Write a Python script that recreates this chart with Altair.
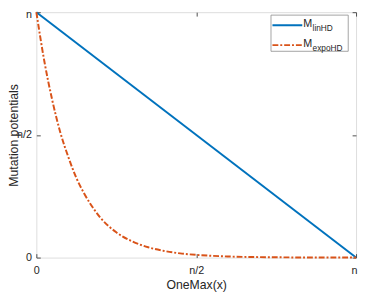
import altair as alt
import pandas as pd

# ---- data (values as fractions of n) ----
lin_x = [0.0, 1.0]
lin_y = [1.0, 0.0]
expo_x = [0.0, 0.025, 0.05, 0.075, 0.1, 0.125, 0.15, 0.175, 0.2, 0.25,
          0.3, 0.35, 0.4, 0.45, 0.5, 0.6, 0.7, 0.8, 0.9, 1.0]
expo_y = [1.0, 0.80, 0.64, 0.51, 0.41, 0.325, 0.26, 0.207, 0.163, 0.103,
          0.066, 0.042, 0.027, 0.017, 0.011, 0.0045, 0.0018, 0.0007, 0.0003, 0.0]
tick_values = [0.0, 0.5, 1.0]
tick_labels = ["0", "n/2", "n"]
series = ["linHD", "expoHD"]
colors = ["#0072BD", "#D95319"]
x_title = "OneMax(x)"
y_title = "Mutation potentials"

W, H = 327, 251
FONT = "Liberation Sans"
AXC = "#4d4d4d"
TXT = "#262626"

expr = " : ".join(f"datum.value == {v} ? '{l}'" for v, l in zip(tick_values[:-1], tick_labels[:-1]))
label_expr = f"{expr} : '{tick_labels[-1]}'"

xs = alt.Scale(domain=[0, 1], nice=False, zero=False)
ys = alt.Scale(domain=[0, 1], nice=False, zero=False)

common = dict(values=tick_values, domain=False, grid=False, tickSize=4, offset=-4,
              tickColor=AXC, labelFlush=False, labelOverlap=False)

last = tick_values[-1]
x_bottom = alt.Axis(orient="bottom", labelExpr=label_expr, labelPadding=7.5, labelFontSize=11,
                    labelFont=FONT, labelColor=TXT, title=x_title, titleFont=FONT,
                    titleFontSize=12.5, titleFontWeight="normal", titleColor=TXT,
                    titleBaseline="middle", titleY=32,
                    labelOffset={"condition": {"test": f"datum.value == {last}", "value": -2}, "value": 0},
                    **common)
y_left = alt.Axis(orient="left", labelExpr=label_expr, labelPadding=5, labelFontSize=11,
                  labelFont=FONT, labelColor=TXT, title=y_title, titleFont=FONT,
                  titleFontSize=12.5, titleFontWeight="normal", titleColor=TXT,
                  titleBaseline="middle", titleX=-27, titleY=H / 2,
                  labelOffset={"condition": {"test": f"datum.value == {last}", "value": 2}, "value": 0},
                  **common)
x_top = alt.Axis(orient="top", labels=False, title=None, **common)
y_right = alt.Axis(orient="right", labels=False, title=None, **common)

df_lin = pd.DataFrame({"x": lin_x, "y": lin_y})
df_expo = pd.DataFrame({"x": expo_x, "y": expo_y})
df_ticks = pd.DataFrame({"v": tick_values})

DASHDOT = [6, 2, 2, 2]

lin = alt.Chart(df_lin).mark_line(color=colors[0], strokeWidth=2).encode(
    x=alt.X("x:Q", scale=xs, axis=x_bottom),
    y=alt.Y("y:Q", scale=ys, axis=y_left),
)
expo = alt.Chart(df_expo).mark_line(
    color=colors[1], strokeWidth=2, strokeDash=DASHDOT, interpolate="monotone"
).encode(
    x=alt.X("x:Q", scale=xs, axis=None),
    y=alt.Y("y:Q", scale=ys, axis=None),
)
mirror = alt.Chart(df_ticks).mark_point(opacity=0).encode(
    x=alt.X("v:Q", scale=xs, axis=x_top),
    y=alt.Y("v:Q", scale=ys, axis=y_right),
)

# ---- legend (manual, for subscripts) ----
one = pd.DataFrame({"a": [0]})
box = alt.Chart(one).mark_rect(fill="white", stroke="#8c8c8c", strokeWidth=0.8).encode(
    x=alt.value(240), x2=alt.value(319), y=alt.value(3), y2=alt.value(40)
)
legend_layers = [box]
row_y = [13.3, 33.7]
dashes = [[1, 0], DASHDOT]
for i, s in enumerate(series):
    legend_layers.append(
        alt.Chart(one).mark_rule(color=colors[i], strokeWidth=2, strokeDash=dashes[i]).encode(
            x=alt.value(241.5), x2=alt.value(272), y=alt.value(row_y[i])
        )
    )
    legend_layers.append(
        alt.Chart(one).mark_text(text="M", align="left", baseline="middle", font=FONT,
                                 fontSize=11, color=TXT).encode(
            x=alt.value(273), y=alt.value(row_y[i] - 1.5)
        )
    )
    legend_layers.append(
        alt.Chart(pd.DataFrame({"s": [s]})).mark_text(align="left", baseline="middle", font=FONT,
                                                      fontSize=8.5, color=TXT).encode(
            x=alt.value(282.5), y=alt.value(row_y[i] + 3), text="s:N"
        )
    )

chart = alt.layer(lin, expo, mirror, *legend_layers).resolve_axis(
    x="independent", y="independent"
).properties(
    width=W, height=H, autosize="none",
    padding={"left": 29, "top": 1, "right": 2, "bottom": 35},
).configure_view(stroke=AXC, strokeWidth=1).configure(font=FONT)

chart.save("out.html", embed_options={"renderer": "svg", "actions": False})
